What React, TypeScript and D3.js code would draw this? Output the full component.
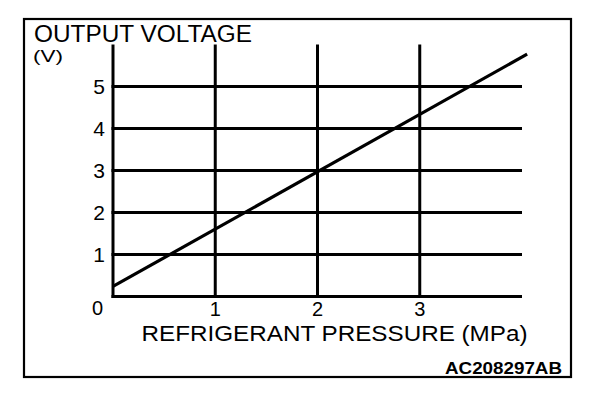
import React from "react";
import * as d3 from "d3";

const pressureTicks = [1, 2, 3];
const voltageTicks = [1, 2, 3, 4, 5];
const gridPressures = [0, 1, 2, 3];
const gridVoltages = [0, 1, 2, 3, 4, 5];
const linePressure = [0, 4.05];
const lineVoltage = [0.24, 5.77];
const yTitle1 = "OUTPUT VOLTAGE";
const yTitle2 = "(V)";
const xTitle = "REFRIGERANT PRESSURE (MPa)";
const figureId = "AC208297AB";

const W = 608;
const H = 398;
const FONT = "'Liberation Sans', Arial, Helvetica, sans-serif";

export default function App() {
  const x = d3.scaleLinear().domain([0, 4]).range([113, 522]);
  const y = d3.scaleLinear().domain([0, 6]).range([296.5, 44.5]);
  const pts: [number, number][] = linePressure.map((p, i) => [p, lineVoltage[i]]);
  const line = d3
    .line<[number, number]>()
    .x((d) => x(d[0]))
    .y((d) => y(d[1]));

  return (
    <svg
      width={W}
      height={H}
      style={{ position: "absolute", left: 0, top: 0, background: "#fff" }}
      fontFamily={FONT}
    >
      <rect x={0} y={0} width={W} height={H} fill="#fff" />
      <rect x={24} y={19} width={547} height={358} fill="none" stroke="#000" strokeWidth={2.2} />

      {gridVoltages.map((v) => (
        <line key={"h" + v} x1={x(0) - 1.5} x2={x(4)} y1={y(v)} y2={y(v)} stroke="#000" strokeWidth={3} />
      ))}
      {gridPressures.map((p) => (
        <line key={"v" + p} x1={x(p)} x2={x(p)} y1={y(6)} y2={y(0) + 1.5} stroke="#000" strokeWidth={3} />
      ))}

      <path d={line(pts) || ""} fill="none" stroke="#000" strokeWidth={3.2} />

      {voltageTicks.map((v) => (
        <text key={"yt" + v} x={105} y={y(v) + 7} fontSize={21} textAnchor="end" fill="#000">
          {v}
        </text>
      ))}
      <text x={97.5} y={315} fontSize={20} textAnchor="middle" fill="#000">
        0
      </text>
      {pressureTicks.map((p) => (
        <text key={"xt" + p} x={x(p)} y={315.5} fontSize={20} textAnchor="middle" fill="#000">
          {p}
        </text>
      ))}

      <text x={34} y={41.5} fontSize={23} textLength={218} lengthAdjust="spacingAndGlyphs" fill="#000">
        {yTitle1}
      </text>
      <text x={33} y={62} fontSize={17} textLength={30} lengthAdjust="spacingAndGlyphs" fill="#000">
        {yTitle2}
      </text>
      <text x={141.5} y={341} fontSize={22} textLength={386} lengthAdjust="spacingAndGlyphs" fill="#000">
        {xTitle}
      </text>
      <text
        x={445}
        y={374}
        fontSize={16}
        fontWeight="bold"
        textLength={117}
        lengthAdjust="spacingAndGlyphs"
        fill="#000"
      >
        {figureId}
      </text>
    </svg>
  );
}
